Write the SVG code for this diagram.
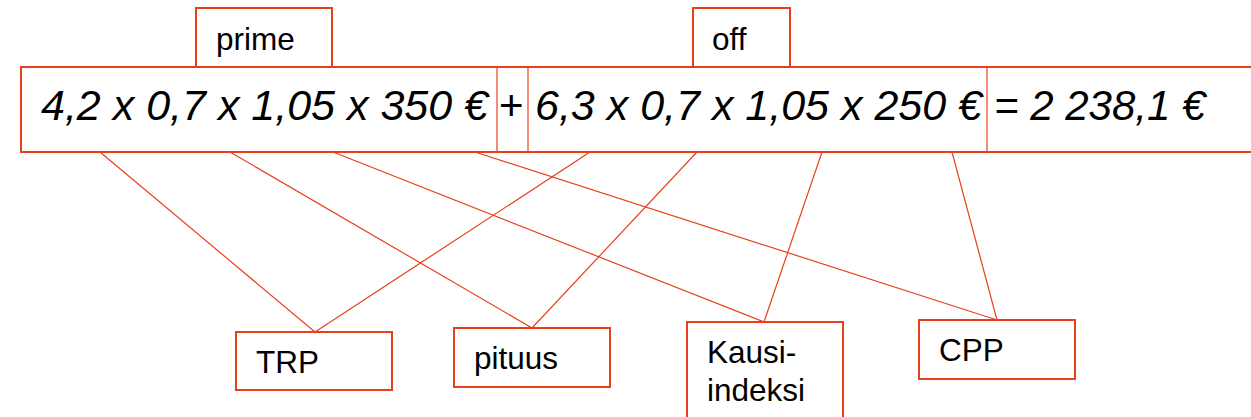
<svg xmlns="http://www.w3.org/2000/svg" width="1251" height="417" viewBox="0 0 1251 417">
<style>
.box{fill:#fff;stroke:#E8401C;stroke-width:2}
.div{stroke:#E8401C;stroke-width:1.2;fill:none}
.con line{stroke:#E8401C;stroke-width:1.2}
.lbl{font-family:"Liberation Sans",Arial,sans-serif;font-size:31.5px;fill:#000}
.eq{font-family:"Liberation Sans",Arial,sans-serif;font-size:43px;font-style:italic;fill:#000}
.plus{font-family:"Liberation Sans",Arial,sans-serif;font-size:42px;fill:#000}
</style>
<rect width="1251" height="417" fill="#fff"/>
<g id="prime"><rect class="box" x="196" y="8" width="136" height="59"/><text class="lbl" x="216" y="50">prime</text></g>
<g id="off"><rect class="box" x="693" y="8" width="97" height="59"/><text class="lbl" x="712" y="50">off</text></g>
<g id="equation">
<rect class="box" x="21" y="67" width="1240" height="85" stroke-width="2.5"/>
<line class="div" x1="497" y1="67" x2="497" y2="152"/>
<line class="div" x1="528" y1="67" x2="528" y2="152"/>
<line class="div" x1="987" y1="67" x2="987" y2="152"/>
<text class="eq" x="41" y="120">4,2 x 0,7 x 1,05 x 350 €</text>
<text class="plus" x="499" y="120">+</text>
<text class="eq" x="535" y="120">6,3 x 0,7 x 1,05 x 250 €</text>
<text class="eq" x="994" y="120" style="font-size:42px">= 2 238,1 €</text>
</g>
<g id="connectors" class="con">
<line x1="100" y1="152" x2="315" y2="332"/>
<line x1="230" y1="152" x2="532" y2="328"/>
<line x1="333" y1="152" x2="764" y2="322"/>
<line x1="475" y1="152" x2="997" y2="320"/>
<line x1="590" y1="152" x2="315" y2="332"/>
<line x1="697" y1="152" x2="532" y2="328"/>
<line x1="822" y1="152" x2="764" y2="322"/>
<line x1="952" y1="152" x2="997" y2="320"/>
</g>
<g id="trp"><rect class="box" x="236" y="332" width="156" height="58"/><text class="lbl" x="256" y="373">TRP</text></g>
<g id="pituus"><rect class="box" x="454" y="328" width="156" height="59"/><text class="lbl" x="474" y="369">pituus</text></g>
<g id="kausi"><rect class="box" x="687" y="322" width="156" height="110"/><text class="lbl" x="707" y="363">Kausi-</text><text class="lbl" x="707" y="401">indeksi</text></g>
<g id="cpp"><rect class="box" x="919" y="320" width="156" height="59"/><text class="lbl" x="939" y="361">CPP</text></g>
</svg>
